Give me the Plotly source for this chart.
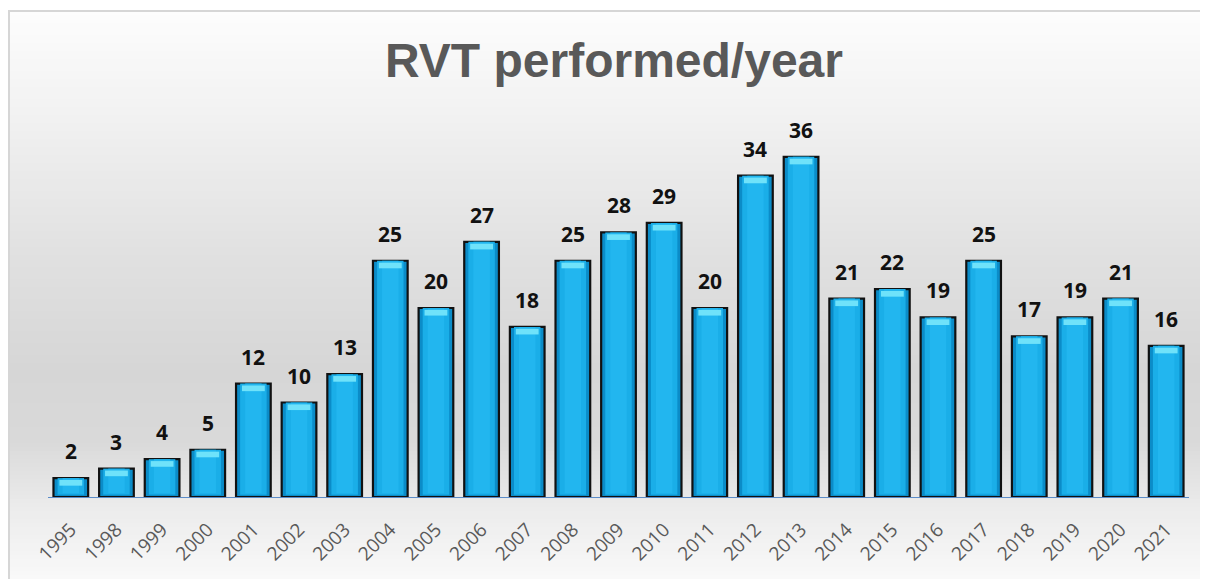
import plotly.graph_objects as go

years = ["1995", "1998", "1999", "2000", "2001", "2002", "2003", "2004", "2005",
         "2006", "2007", "2008", "2009", "2010", "2011", "2012", "2013", "2014",
         "2015", "2016", "2017", "2018", "2019", "2020", "2021"]
counts = [2, 3, 4, 5, 12, 10, 13, 25, 20, 27, 18, 25, 28, 29, 20, 34, 36, 21,
          22, 19, 25, 17, 19, 21, 16]

W, H = 1208, 579
OFF = 8  # page offset of the figure
ML, MR, MT, MB = 48 - OFF, 19 + OFF, 119 - OFF, 82 + OFF
PW, PH = W - ML - MR, H - MT - MB
YMAX = 40


def px_x(p):
    return (p - OFF - ML) / PW


def px_y(p):
    return (H - MB - (p - OFF)) / PH


def hexmix(c1, c2, t):
    a = [int(c1[i:i + 2], 16) for i in (1, 3, 5)]
    b = [int(c2[i:i + 2], 16) for i in (1, 3, 5)]
    return "#" + "".join(f"{round(a[k] + (b[k] - a[k]) * t):02x}" for k in range(3))


# background gradient stops (page pixel y, colour)
stops = [(11, "#fdfdfd"), (120, "#f1f1f1"), (250, "#e1e1e1"), (370, "#d6d6d6"),
         (440, "#d9d9d9"), (510, "#ececec"), (590, "#fbfbfb")]
shapes = []
step = 4
y = 11
while y < 590:
    yc = y + step / 2
    col = stops[-1][1]
    for i in range(len(stops) - 1):
        if stops[i][0] <= yc <= stops[i + 1][0]:
            t = (yc - stops[i][0]) / (stops[i + 1][0] - stops[i][0])
            col = hexmix(stops[i][1], stops[i + 1][1], t)
            break
    shapes.append(dict(type="rect", xref="paper", yref="paper", layer="below",
                       x0=px_x(9), x1=px_x(1230), y0=px_y(y + step + 0.5), y1=px_y(y),
                       fillcolor=col, line=dict(width=0)))
    y += step
shapes.append(dict(type="rect", xref="paper", yref="paper", layer="below",
                   x0=px_x(9), x1=px_x(1240), y0=px_y(600), y1=px_y(11),
                   fillcolor="rgba(0,0,0,0)", line=dict(color="#d6d6d6", width=2)))

fig = go.Figure()
# outer bar with outline
fig.add_trace(go.Bar(
    x=years, y=counts, width=0.76,
    marker=dict(color="#0b8cc8", line=dict(color="#111111", width=2.2)),
    hoverinfo="skip"))
# inner brighter body
fig.add_trace(go.Bar(
    x=years, y=[v - 0.25 for v in counts], base=[0.25] * len(counts), width=0.58,
    marker=dict(color="#1aaee8", line=dict(width=0)), hoverinfo="skip"))
fig.add_trace(go.Bar(
    x=years, y=[v - 0.4 for v in counts], base=[0.4] * len(counts), width=0.36,
    marker=dict(color="#22b6ef", line=dict(width=0)), hoverinfo="skip"))
# top highlight
fig.add_trace(go.Bar(
    x=years, y=[0.6] * len(counts), base=[v - 0.8 for v in counts], width=0.5,
    marker=dict(color="#6fe2fa", line=dict(width=0)), hoverinfo="skip"))

annotations = [dict(x=i, y=v, text=f"<b>{v}</b>", showarrow=False, yanchor="bottom",
                    yshift=11, font=dict(family="Open Sans", size=21, color="#111111"))
               for i, v in enumerate(counts)]

fig.update_layout(
    width=W, height=H, barmode="overlay", showlegend=False,
    margin=dict(l=ML, r=MR, t=MT, b=MB),
    paper_bgcolor="white", plot_bgcolor="rgba(0,0,0,0)",
    shapes=shapes, annotations=annotations,
    title=dict(text="<b>RVT performed/year</b>", x=(614 - OFF) / W, xanchor="center",
               y=1 - (60 - OFF) / H, yanchor="middle", yref="container", xref="container",
               font=dict(family="Liberation Sans", size=48, color="#595959")),
    xaxis=dict(type="category", range=[-0.5, len(years) - 0.5], tickangle=-45,
               showgrid=False, zeroline=False,
               showline=True, linecolor="#5b8cc8", linewidth=1,
               ticks="", ticklabelstandoff=13,
               tickfont=dict(family="Open Sans", size=19, color="#595959")),
    yaxis=dict(range=[0, YMAX], visible=False, showgrid=False, zeroline=False),
)

fig.write_html("out.html")
